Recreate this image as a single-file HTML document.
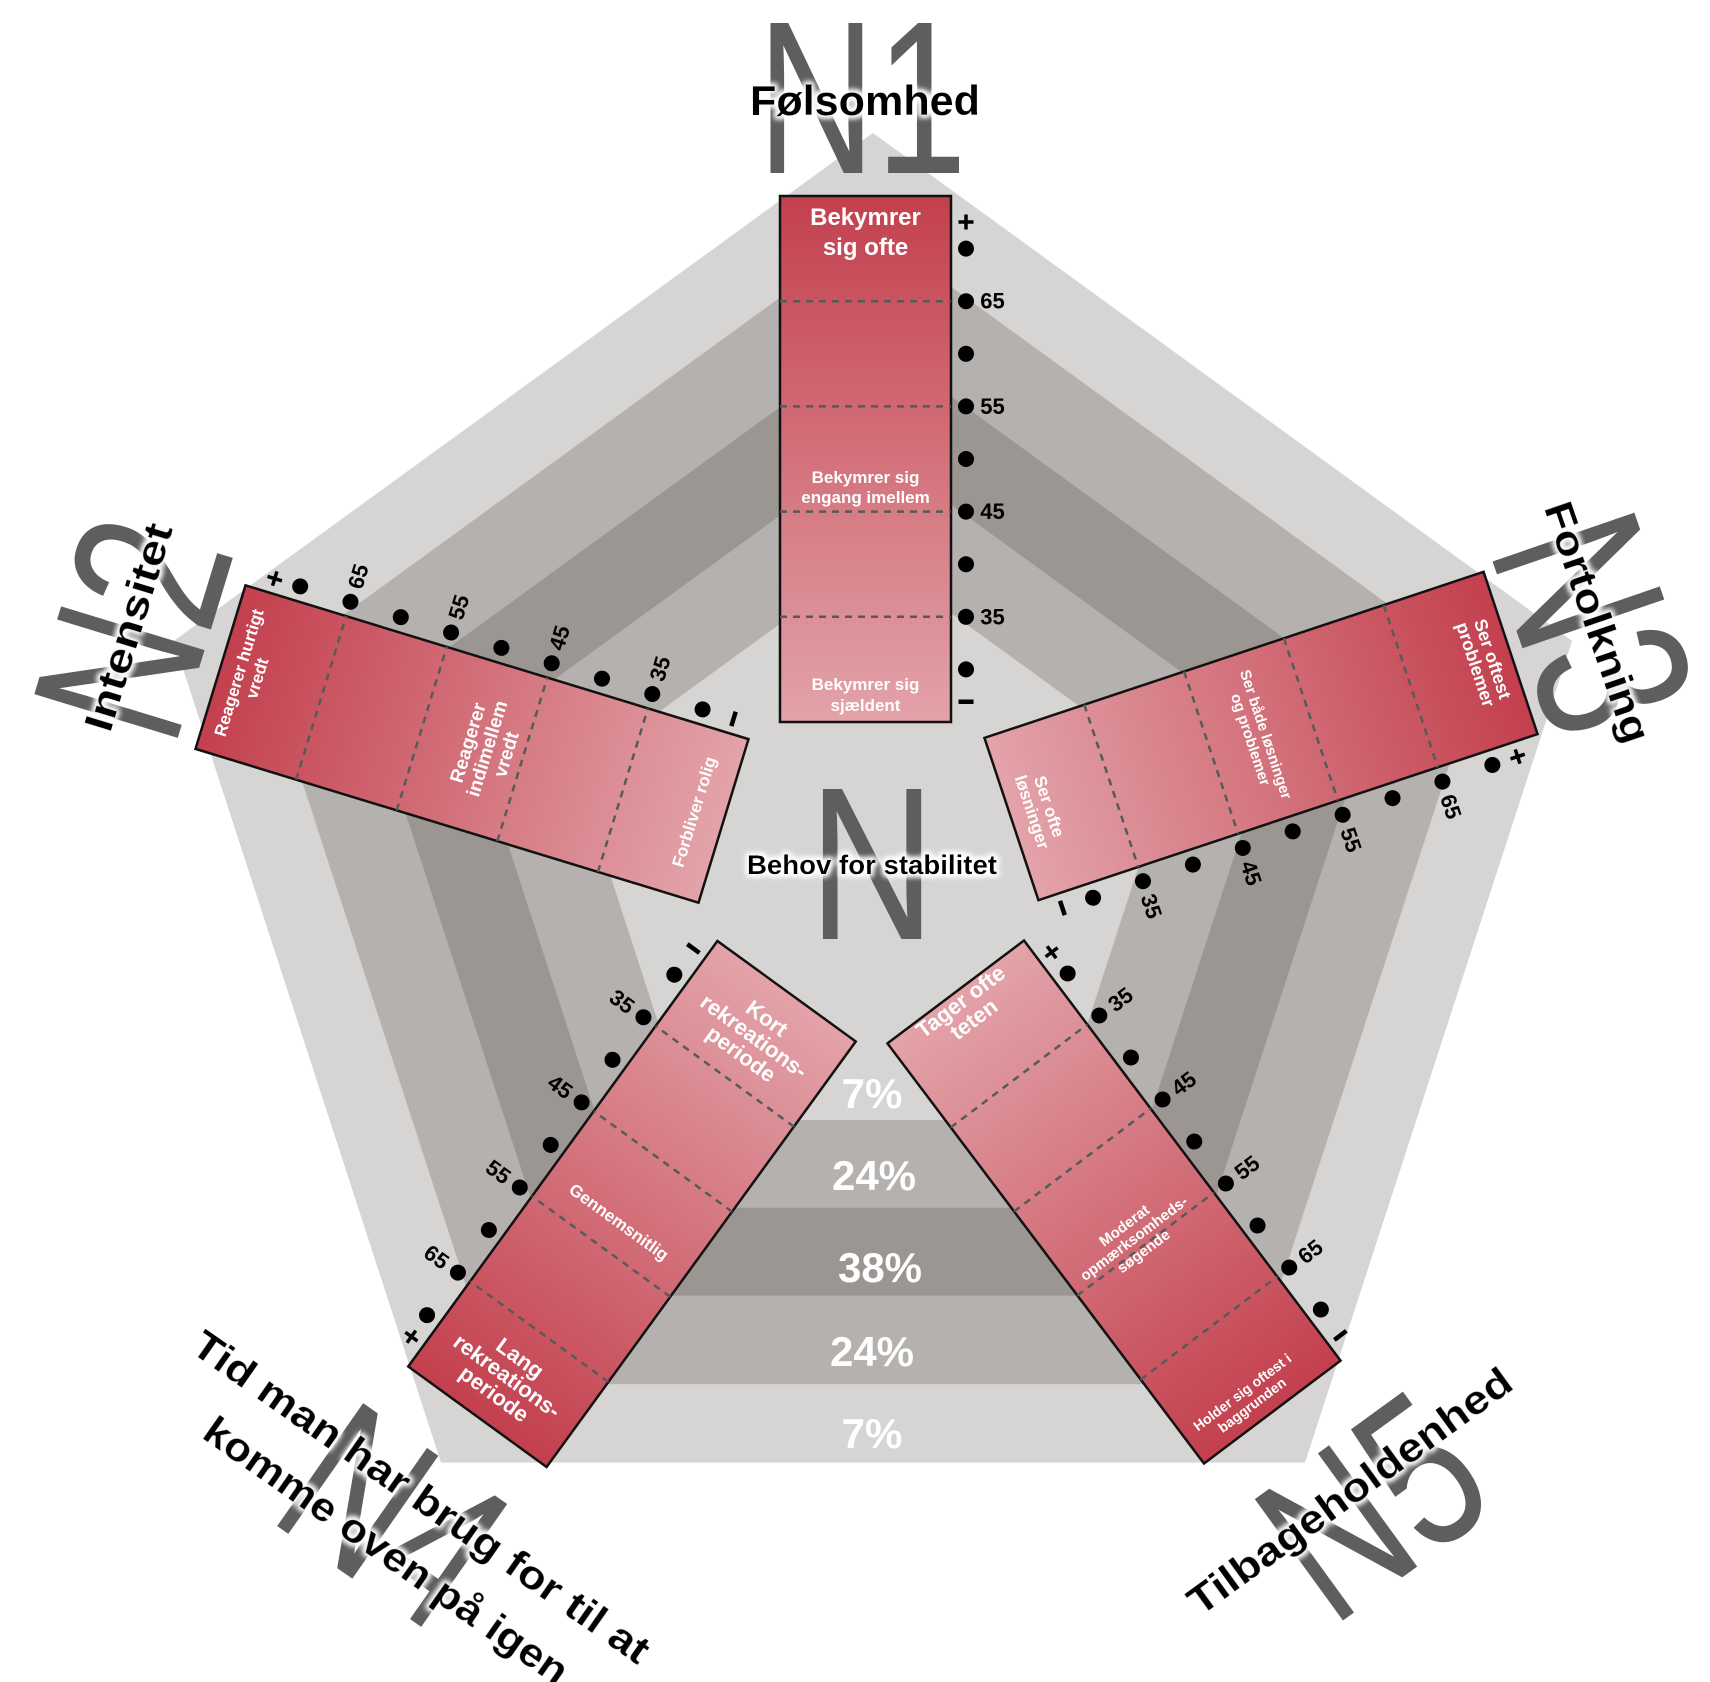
<!DOCTYPE html>
<html><head><meta charset="utf-8"><style>
html,body{margin:0;padding:0;background:#fff;width:1710px;height:1682px;overflow:hidden}
svg{display:block}
text{font-family:"Liberation Sans",sans-serif}
</style></head><body>
<svg width="1710" height="1682" viewBox="0 0 1710 1682" xmlns="http://www.w3.org/2000/svg" style="overflow:hidden">
<defs>
<linearGradient id="gA" gradientUnits="userSpaceOnUse" x1="0" y1="-263" x2="0" y2="263">
<stop offset="0" stop-color="#c3404e"/><stop offset="1" stop-color="#e3a3a9"/></linearGradient>
<linearGradient id="gB" gradientUnits="userSpaceOnUse" x1="0" y1="-263" x2="0" y2="263">
<stop offset="0" stop-color="#e3a3a9"/><stop offset="1" stop-color="#c3404e"/></linearGradient>
<filter id="glow" x="-20%" y="-50%" width="140%" height="200%">
<feMorphology operator="dilate" radius="2" in="SourceAlpha" result="d"/>
<feGaussianBlur in="d" stdDeviation="3" result="b"/>
<feFlood flood-color="#fff"/><feComposite in2="b" operator="in" result="w"/>
<feMerge><feMergeNode in="w"/><feMergeNode in="w"/><feMergeNode in="SourceGraphic"/></feMerge></filter>
<g id="ticks">
<g stroke="#555b5a" stroke-width="2.5" stroke-dasharray="7 6">
<line x1="-85.5" y1="-157.8" x2="85.5" y2="-157.8"/><line x1="-85.5" y1="-52.6" x2="85.5" y2="-52.6"/>
<line x1="-85.5" y1="52.6" x2="85.5" y2="52.6"/><line x1="-85.5" y1="157.8" x2="85.5" y2="157.8"/></g>
<g fill="#000">
<circle cx="100.5" cy="-210.4" r="8"/><circle cx="100.5" cy="-157.8" r="8"/><circle cx="100.5" cy="-105.2" r="8"/>
<circle cx="100.5" cy="-52.6" r="8"/><circle cx="100.5" cy="0" r="8"/><circle cx="100.5" cy="52.6" r="8"/>
<circle cx="100.5" cy="105.2" r="8"/><circle cx="100.5" cy="157.8" r="8"/><circle cx="100.5" cy="210.4" r="8"/>
<rect x="93" y="240.5" width="15" height="4.5"/></g>
<path d="M93,-237 H108 M100.5,-244.5 V-229.5" stroke="#000" stroke-width="3.5"/>
</g>
<g id="barA"><rect x="-85.5" y="-263" width="171" height="526" fill="url(#gA)" stroke="#111" stroke-width="2.5"/><use href="#ticks"/></g>
<g id="barB"><rect x="-85.5" y="-263" width="171" height="526" fill="url(#gB)" stroke="#111" stroke-width="2.5"/><use href="#ticks"/></g>
</defs>

<polygon points="873,133 1572.1,640.9 1305,1462.6 441,1462.6 173.9,640.9" fill="#d6d5d3"/>
<polygon points="873,230 1479.8,670.9 1248,1384.1 498,1384.1 266.2,670.9" fill="#b5b1ae"/>
<polygon points="873,339.5 1375.7,704.7 1183.7,1295.6 562.3,1295.6 370.3,704.7" fill="#9c9693"/>
<polygon points="873,448 1272.5,738.2 1119.9,1207.8 626.1,1207.8 473.5,738.2" fill="#b5b1ae"/>
<polygon points="873,556.4 1169.4,771.7 1056.2,1120.1 689.8,1120.1 576.6,771.7" fill="#d6d5d3"/>

<g fill="#fff" font-weight="bold" font-size="42" text-anchor="middle">
<text x="872" y="1108">7%</text>
<text x="874" y="1190">24%</text>
<text x="880" y="1282">38%</text>
<text x="872" y="1366">24%</text>
<text x="872" y="1448">7%</text>
</g>

<text x="872" y="939" font-size="218" fill="#5c5f5e" text-anchor="middle" textLength="127" lengthAdjust="spacingAndGlyphs">N</text>
<text x="872" y="874" font-size="27" font-weight="bold" text-anchor="middle" textLength="250" lengthAdjust="spacingAndGlyphs" filter="url(#glow)">Behov for stabilitet</text>

<g transform="translate(862,95)">
<text x="0" y="78" font-size="218" fill="#5c5f5e" text-anchor="middle" textLength="210" lengthAdjust="spacingAndGlyphs">N1</text>
<text x="3" y="20" font-size="42" font-weight="bold" text-anchor="middle" textLength="230" lengthAdjust="spacingAndGlyphs" filter="url(#glow)">Følsomhed</text>
</g>
<g transform="translate(128,627) rotate(-73)">
<text x="0" y="80" font-size="218" fill="#5c5f5e" text-anchor="middle" textLength="210" lengthAdjust="spacingAndGlyphs">N2</text>
<text x="0" y="14" font-size="40" font-weight="bold" text-anchor="middle" textLength="215" lengthAdjust="spacingAndGlyphs" filter="url(#glow)">Intensitet</text>
</g>
<g transform="translate(1598,622) rotate(71)">
<text x="0" y="80" font-size="218" fill="#5c5f5e" text-anchor="middle" textLength="210" lengthAdjust="spacingAndGlyphs">N3</text>
<text x="0" y="14" font-size="40" font-weight="bold" text-anchor="middle" textLength="252" lengthAdjust="spacingAndGlyphs" filter="url(#glow)">Fortolkning</text>
</g>
<g transform="translate(398,1513) rotate(35)">
<text x="0" y="80" font-size="218" fill="#5c5f5e" text-anchor="middle" textLength="210" lengthAdjust="spacingAndGlyphs">N4</text>
<text x="10" y="-13" font-size="40" font-weight="bold" text-anchor="middle" textLength="548" lengthAdjust="spacingAndGlyphs" filter="url(#glow)">Tid man har brug for til at</text>
<text x="12" y="51" font-size="40" font-weight="bold" text-anchor="middle" textLength="435" lengthAdjust="spacingAndGlyphs" filter="url(#glow)">komme oven på igen</text>
</g>
<g transform="translate(1370,1502) rotate(-36)">
<text x="0" y="80" font-size="218" fill="#5c5f5e" text-anchor="middle" textLength="210" lengthAdjust="spacingAndGlyphs">N5</text>
<text x="-10" y="-7" font-size="40" font-weight="bold" text-anchor="middle" textLength="390" lengthAdjust="spacingAndGlyphs" filter="url(#glow)">Tilbageholdenhed</text>
</g>

<g transform="translate(865.5,459)">
<use href="#barA"/>
<g font-size="22" font-weight="bold" dominant-baseline="central" text-anchor="middle">
<text x="127" y="-157.8">65</text><text x="127" y="-52.6">55</text><text x="127" y="52.6">45</text><text x="127" y="157.8">35</text></g>
<g fill="#fff" font-weight="bold" text-anchor="middle">
<text x="0" y="-234" font-size="24">Bekymrer</text><text x="0" y="-204" font-size="24">sig ofte</text>
<text x="0" y="24" font-size="17">Bekymrer sig</text><text x="0" y="44" font-size="17">engang imellem</text>
<text x="0" y="231" font-size="17">Bekymrer sig</text><text x="0" y="252" font-size="17">sjældent</text>
</g></g>

<g transform="translate(472,744) rotate(-73)">
<use href="#barA"/>
<g font-size="22" font-weight="bold" dominant-baseline="central" text-anchor="middle">
<text x="127" y="-157.8">65</text><text x="127" y="-52.6">55</text><text x="127" y="52.6">45</text><text x="127" y="157.8">35</text></g>
<g fill="#fff" font-weight="bold" text-anchor="middle">
<text x="0" y="-238" font-size="17">Reagerer hurtigt</text><text x="0" y="-219" font-size="17">vredt</text>
<text x="0" y="2" font-size="19">Reagerer</text><text x="0" y="22" font-size="19">indimellem</text><text x="0" y="42" font-size="19">vredt</text>
<text x="0" y="238" font-size="17">Forbliver rolig</text>
</g></g>

<g transform="translate(1261,736) rotate(71.6)">
<use href="#barA"/>
<g font-size="22" font-weight="bold" dominant-baseline="central" text-anchor="middle">
<text x="127" y="-157.8">65</text><text x="127" y="-52.6">55</text><text x="127" y="52.6">45</text><text x="127" y="157.8">35</text></g>
<g fill="#fff" font-weight="bold" text-anchor="middle">
<text x="0" y="-238" font-size="18">Ser oftest</text><text x="0" y="-220" font-size="18">problemer</text>
<text x="0" y="0" font-size="15">Ser både løsninger</text><text x="0" y="16" font-size="15">og problemer</text>
<text x="0" y="229" font-size="17">Ser ofte</text><text x="0" y="247" font-size="17">løsninger</text>
</g></g>

<g transform="translate(632,1204) rotate(-144)">
<use href="#barA"/>
<g font-size="22" font-weight="bold" dominant-baseline="central" text-anchor="middle">
<text x="127" y="-157.8" transform="rotate(180 127 -157.8)">65</text>
<text x="127" y="-52.6" transform="rotate(180 127 -52.6)">55</text>
<text x="127" y="52.6" transform="rotate(180 127 52.6)">45</text>
<text x="127" y="157.8" transform="rotate(180 127 157.8)">35</text></g>
<g fill="#fff" font-weight="bold" text-anchor="middle">
<g transform="rotate(180 0 208)">
<text x="0" y="194" font-size="22">Kort</text><text x="0" y="216" font-size="22">rekreations-</text><text x="0" y="238" font-size="22">periode</text></g>
<g transform="rotate(180 0 -22)"><text x="0" y="-16" font-size="17">Gennemsnitlig</text></g>
<g transform="rotate(180 0 -212)">
<text x="0" y="-226" font-size="22">Lang</text><text x="0" y="-204" font-size="22">rekreations-</text><text x="0" y="-182" font-size="22">periode</text></g>
</g></g>

<g transform="translate(1114,1202) rotate(-37)">
<use href="#barB"/>
<g font-size="22" font-weight="bold" dominant-baseline="central" text-anchor="middle">
<text x="127" y="-157.8">35</text><text x="127" y="-52.6">45</text><text x="127" y="52.6">55</text><text x="127" y="157.8">65</text></g>
<g fill="#fff" font-weight="bold" text-anchor="middle">
<text x="-2" y="-245" font-size="22">Tager ofte</text><text x="-2" y="-223" font-size="22">teten</text>
<text x="-6" y="30" font-size="15">Moderat</text><text x="-6" y="46" font-size="15">opmærksomheds-</text><text x="-6" y="62" font-size="15">søgende</text>
<text x="-12" y="234" font-size="14">Holder sig oftest i</text><text x="-12" y="250" font-size="14">baggrunden</text>
</g></g>
</svg>
</body></html>
